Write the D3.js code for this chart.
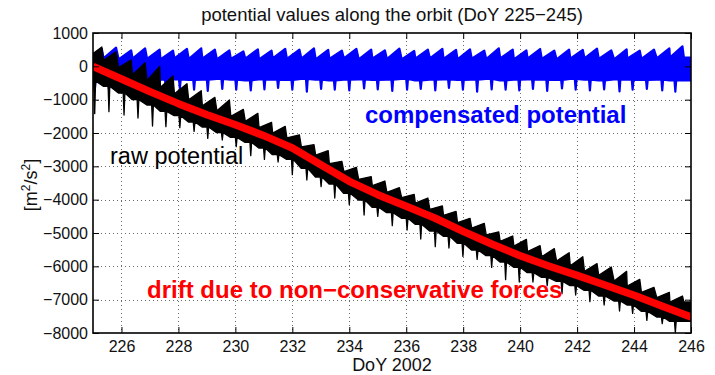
<!DOCTYPE html>
<html>
<head>
<meta charset="utf-8">
<script src="https://cdn.jsdelivr.net/npm/d3@7"></script>
<style>
  html, body { margin: 0; padding: 0; background: #fff; }
  svg { display: block; }
  text { font-family: "Liberation Sans", Arial, Helvetica, sans-serif; }
</style>
</head>
<body>
<svg id="chart" width="715" height="375"></svg>
<script>
// ---------- data ----------
const xTicks = [226, 228, 230, 232, 234, 236, 238, 240, 242, 244, 246];
const yTicks = [1000, 0, -1000, -2000, -3000, -4000, -5000, -6000, -7000, -8000];

// drift due to non-conservative forces (red)
const driftDays = [225, 226, 227, 228, 229, 230, 231, 232, 233, 234, 235, 236, 237, 238, 239, 240, 241, 242, 243, 244, 245, 246];
const driftValues = [0, -380, -760, -1120, -1450, -1750, -2080, -2450, -2950, -3450, -3850, -4200, -4550, -4950, -5330, -5680, -5990, -6270, -6570, -6870, -7200, -7520];

// days of the twice-daily sawtooth peaks
const peakDays = [225.31, 225.81, 226.34, 226.83, 227.34, 227.81, 228.30, 228.80, 229.28, 229.79,
  230.28, 230.79, 231.27, 231.75, 232.25, 232.76, 233.26, 233.74, 234.25, 234.77,
  235.25, 235.76, 236.28, 236.76, 237.27, 237.75, 238.24, 238.74, 239.25, 239.74,
  240.22, 240.70, 241.20, 241.72, 242.20, 242.70, 243.20, 243.74, 244.20, 244.70,
  245.24, 245.70];

// compensated potential (blue) envelope
const bluePeak = [520, 560, 480, 540, 500, 470, 520, 540, 500, 480, 450, 510, 470, 520, 500, 540, 490, 470, 520, 500,
  480, 530, 460, 500, 520, 490, 510, 470, 540, 500, 480, 520, 470, 500, 490, 530, 480, 510, 470, 500, 540, 600];
const blueTrough = [260, 240, 210, 230, 220, 210, 240, 220, 230, 210, 220, 230, 210, 240, 220, 230, 210, 220, 240, 210,
  230, 220, 210, 230, 240, 220, 210, 230, 220, 240, 210, 230, 220, 210, 230, 240, 220, 210, 230, 220, 240, 260];
const blueBase = [-450, -420, -400, -380, -420, -400, -390, -410, -400, -380, -400, -420, -390, -400, -410, -380, -400, -420, -400, -390,
  -410, -400, -380, -420, -400, -390, -410, -400, -380, -420, -400, -390, -400, -410, -380, -400, -420, -390, -400, -410, -400, -420];
const blueSpike = [-720, -680, -700, -650, -720, -690, -660, -700, -740, -680, -700, -720, -690, -650, -700, -760, -680, -700, -720, -660,
  -690, -740, -700, -680, -720, -650, -700, -760, -690, -700, -720, -680, -740, -660, -700, -720, -690, -750, -700, -680, -720, -760];

// raw potential (black) envelope
const rawPeak = [580, 440, 190, 110, 0, -290, -520, -730, -930, -1010, -1290, -1410, -1680, -1800, -2060, -2350, -2530, -2850, -3030, -3310,
  -3440, -3640, -3840, -3950, -4190, -4350, -4560, -4710, -4970, -5090, -5190, -5380, -5470, -5590, -5710, -5920, -6020, -6150, -6390, -6630,
  -6780, -6890];
const rawTrough = [300, 180, -40, -250, -420, -630, -820, -1000, -1180, -1330, -1500, -1650, -1840, -2000, -2150, -2420, -2660, -2920, -3160, -3390,
  -3580, -3780, -3940, -4100, -4290, -4470, -4690, -4850, -5060, -5250, -5390, -5560, -5710, -5840, -5980, -6150, -6270, -6440, -6590, -6780,
  -6940, -7070];
const rawBase = [-440, -600, -800, -1000, -1160, -1350, -1480, -1670, -1820, -1990, -2130, -2280, -2450, -2650, -2790, -3060, -3320, -3530, -3810, -4010,
  -4230, -4390, -4560, -4740, -4940, -5100, -5310, -5510, -5680, -5870, -6030, -6190, -6330, -6450, -6580, -6720, -6890, -7040, -7160, -7350,
  -7520, -7650];
const rawSpike = [-1420, -1360, -1460, -1550, -1790, -1810, -1840, -1950, -2160, -2210, -2410, -2680, -2790, -2870, -3250, -3410, -3610, -3950, -4150, -4460,
  -4500, -4780, -4910, -5180, -5410, -5450, -5700, -5790, -6030, -6400, -6470, -6470, -6580, -6820, -6860, -7060, -7160, -7340, -7410, -7620,
  -7720, -7990];

// ---------- layout ----------
const W = 715, H = 375;
const L = 93, R = 691, T = 33, B = 333;
const svg = d3.select("#chart");
svg.append("rect").attr("width", W).attr("height", H).attr("fill", "#fff");

const x = d3.scaleLinear().domain([225, 246]).range([L, R]);
const y = d3.scaleLinear().domain([-8000, 1000]).range([B, T]);
const fmt = d => d < 0 ? "\u2212" + Math.abs(d) : String(d);

// grid
const grid = svg.append("g").attr("stroke", "#6a6a6a").attr("stroke-width", 1).attr("stroke-dasharray", "1,3");
grid.selectAll("line.gx").data(xTicks.filter(d => d < 246)).join("line")
  .attr("x1", d => Math.round(x(d)) + 0.5).attr("x2", d => Math.round(x(d)) + 0.5)
  .attr("y1", T).attr("y2", B);
grid.selectAll("line.gy").data(yTicks.filter(d => d > -8000 && d < 1000)).join("line")
  .attr("class", "gy")
  .attr("x1", L).attr("x2", R)
  .attr("y1", d => Math.round(y(d)) + 0.5).attr("y2", d => Math.round(y(d)) + 0.5);

// clip
svg.append("clipPath").attr("id", "clip").append("rect")
  .attr("x", L).attr("y", T).attr("width", R - L).attr("height", B - T);
const plot = svg.append("g").attr("clip-path", "url(#clip)");

function bandPoints(peak, trough, base, spike) {
  const top = [], bot = [];
  peakDays.forEach((p, i) => {
    top.push([p - 0.44, trough[i]], [p, peak[i]]);
    bot.push([p - 0.45, base[i]], [p - 0.28, base[i]], [p - 0.25, spike[i]], [p - 0.22, base[i]]);
  });
  const n = peakDays.length - 1;
  top.push([peakDays[n] + 0.05, trough[n]], [246.3, trough[n]]);
  bot.push([246.3, base[n]]);
  return top.concat(bot.reverse());
}
const line = d3.line().x(d => x(d[0])).y(d => y(d[1]));

// compensated potential
plot.append("path")
  .attr("d", line(bandPoints(bluePeak, blueTrough, blueBase, blueSpike)) + "Z")
  .attr("fill", "#0000ff").attr("stroke", "#0000ff").attr("stroke-width", 2.2).attr("stroke-linejoin", "round");

// raw potential
plot.append("path")
  .attr("d", line(bandPoints(rawPeak, rawTrough, rawBase, rawSpike)) + "Z")
  .attr("fill", "#000").attr("stroke", "#000").attr("stroke-width", 1.3).attr("stroke-linejoin", "round");

// drift
plot.append("path")
  .datum(driftDays.map((d, i) => [d, driftValues[i]]))
  .attr("d", line)
  .attr("fill", "none").attr("stroke", "#ff0000").attr("stroke-width", 7.5).attr("stroke-linejoin", "round");

// axes (ticks inside, like the original)
const axB = svg.append("g").attr("transform", `translate(0,${B})`)
  .call(d3.axisBottom(x).tickValues(xTicks).tickSize(-6).tickPadding(8).tickFormat(fmt));
const axL = svg.append("g").attr("transform", `translate(${L},0)`)
  .call(d3.axisLeft(y).tickValues(yTicks).tickSize(-6).tickPadding(5).tickFormat(fmt));
const axT = svg.append("g").attr("transform", `translate(0,${T})`)
  .call(d3.axisTop(x).tickValues(xTicks).tickSize(-6).tickFormat(""));
const axR = svg.append("g").attr("transform", `translate(${R},0)`)
  .call(d3.axisRight(y).tickValues(yTicks).tickSize(-6).tickFormat(""));
[axB, axL, axT, axR].forEach(g => {
  g.select(".domain").remove();
  g.selectAll("line").attr("stroke", "#000").attr("stroke-width", 1);
  g.selectAll("text").attr("font-size", 16).attr("fill", "#111")
    .style("font-family", '"Liberation Sans", Arial, sans-serif');
});
svg.append("rect").attr("x", L).attr("y", T).attr("width", R - L).attr("height", B - T)
  .attr("fill", "none").attr("stroke", "#000").attr("stroke-width", 1.6);

// title and labels
svg.append("text").attr("x", (L + R) / 2).attr("y", 21).attr("text-anchor", "middle")
  .attr("font-size", 18.5).attr("fill", "#111").text("potential values along the orbit (DoY 225\u2212245)");
svg.append("text").attr("x", (L + R) / 2).attr("y", 371).attr("text-anchor", "middle")
  .attr("font-size", 18).attr("fill", "#111").text("DoY 2002");
const yl = svg.append("text").attr("transform", "translate(37,185) rotate(-90)")
  .attr("text-anchor", "middle").attr("font-size", 18).attr("fill", "#111");
yl.append("tspan").text("[m");
yl.append("tspan").attr("baseline-shift", "super").attr("font-size", 12).text("2");
yl.append("tspan").text("/s");
yl.append("tspan").attr("baseline-shift", "super").attr("font-size", 12).text("2");
yl.append("tspan").text("]");

// annotations
svg.append("text").attr("x", 365).attr("y", 123).attr("font-size", 24).attr("font-weight", "bold")
  .attr("fill", "#0000ff").text("compensated potential");
svg.append("text").attr("x", 110).attr("y", 164).attr("font-size", 23.5)
  .attr("fill", "#000").text("raw potential");
svg.append("text").attr("x", 147).attr("y", 298).attr("font-size", 24).attr("font-weight", "bold")
  .attr("fill", "#ff0000").text("drift due to non\u2212conservative forces");
</script>
</body>
</html>
